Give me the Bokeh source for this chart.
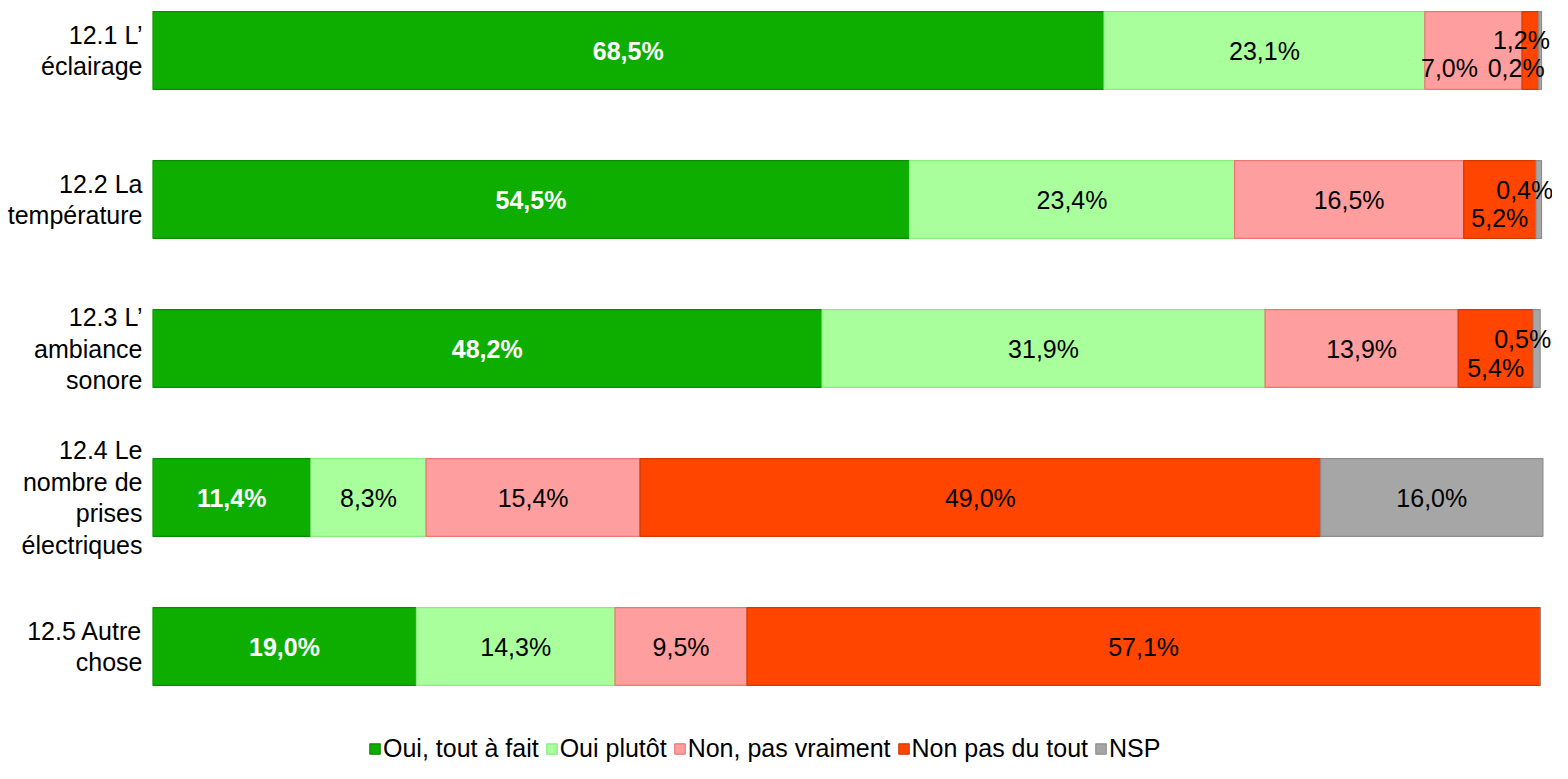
from bokeh.plotting import figure
from bokeh.models import ColumnDataSource, FixedTicker, Legend, LegendItem
from bokeh.core.properties import value
from bokeh.embed import file_html
from bokeh.resources import INLINE

# ---- data ----
categories = [
    "12.1 L’\néclairage",
    "12.2 La\ntempérature",
    "12.3 L’\nambiance\nsonore",
    "12.4 Le\nnombre de\nprises\nélectriques",
    "12.5 Autre\nchose",
]
series_names = ["Oui, tout à fait", "Oui plutôt", "Non, pas vraiment", "Non pas du tout", "NSP"]
oui_tout_a_fait = [68.5, 54.5, 48.2, 11.4, 19.0]
oui_plutot = [23.1, 23.4, 31.9, 8.3, 14.3]
non_pas_vraiment = [7.0, 16.5, 13.9, 15.4, 9.5]
non_pas_du_tout = [1.2, 5.2, 5.4, 49.0, 57.1]
nsp = [0.2, 0.4, 0.5, 16.0, 0.0]
series_values = [oui_tout_a_fait, oui_plutot, non_pas_vraiment, non_pas_du_tout, nsp]

# ---- style ----
fill_colors = ["#0DAE00", "#A8FF9C", "#FF9E9E", "#FF4500", "#A6A6A6"]
edge_colors = ["#0A8C00", "#86EE7C", "#F07474", "#D23A00", "#8E8E8E"]
label_colors = ["white", "black", "black", "black", "black"]
label_styles = ["bold", "normal", "normal", "normal", "normal"]
# pixel shifts (dx, dy) for labels of thin segments: (row, series) -> px
label_shift = {(0, 2): (-24, 17), (0, 3): (-9, -11), (0, 4): (-24, 17),
               (1, 3): (0, 18), (1, 4): (-14, -10),
               (2, 3): (0, 19), (2, 4): (-14, -10)}
FONT = "Liberation Sans"
FS = "25px"

n = len(categories)
ypos = [n - i for i in range(n)]  # top row first

p = figure(width=1552, height=763, output_backend="svg", toolbar_location=None,
           x_range=(0, 100.79), y_range=(0.2148, 5.3356),
           x_axis_location=None, min_border_left=152, min_border_right=0,
           min_border_top=0, min_border_bottom=0)
p.outline_line_color = None
p.xgrid.visible = False
p.ygrid.visible = False

ax = p.yaxis[0]
ax.ticker = FixedTicker(ticks=ypos)
ax.major_label_overrides = {y: c for y, c in zip(ypos, categories)}
ax.axis_line_color = None
ax.major_tick_line_color = None
ax.minor_tick_line_color = None
ax.major_tick_in = 0
ax.major_tick_out = 0
ax.major_label_standoff = 10
ax.major_label_text_font = FONT
ax.major_label_text_font_size = FS
ax.major_label_text_color = "black"
ax.major_label_text_align = "right"
ax.major_label_text_line_height = 1.12

legend_items = []
cum = [0.0] * n
tx, ty, ts, tc, tst, tdx, tdy = [], [], [], [], [], [], []
for j, (name, vals) in enumerate(zip(series_names, series_values)):
    left = cum[:]
    right = [l + v for l, v in zip(left, vals)]
    src = ColumnDataSource(dict(y=ypos, left=left, right=right))
    r = p.hbar(y="y", left="left", right="right", height=0.523, source=src,
               fill_color=fill_colors[j], line_color=edge_colors[j], line_width=1.2)
    legend_items.append(LegendItem(label=name, renderers=[r]))
    for i, v in enumerate(vals):
        if v <= 0:
            continue
        dx, dy = label_shift.get((i, j), (0, 0))
        tx.append((left[i] + right[i]) / 2)
        ty.append(ypos[i])
        ts.append(f"{v:.1f}".replace(".", ",") + "%")
        tc.append(label_colors[j])
        tst.append(label_styles[j])
        tdx.append(dx)
        tdy.append(dy)
    cum = right

tsrc = ColumnDataSource(dict(x=tx, y=ty, t=ts, c=tc, st=tst, dx=tdx, dy=tdy))
p.text(x="x", y="y", text="t", source=tsrc, text_color="c", text_font_style="st",
       x_offset="dx", y_offset="dy", text_align="center", text_baseline="middle",
       text_font=value(FONT), text_font_size=FS)

legend = Legend(items=legend_items, orientation="horizontal", location=(216, 0),
                glyph_width=13, glyph_height=13, label_standoff=2, spacing=6,
                padding=0, margin=0, border_line_color=None, background_fill_alpha=0,
                label_text_font=FONT, label_text_font_size=FS, label_text_color="black")
p.add_layout(legend)

open("out.html", "w").write(file_html(p, INLINE))
